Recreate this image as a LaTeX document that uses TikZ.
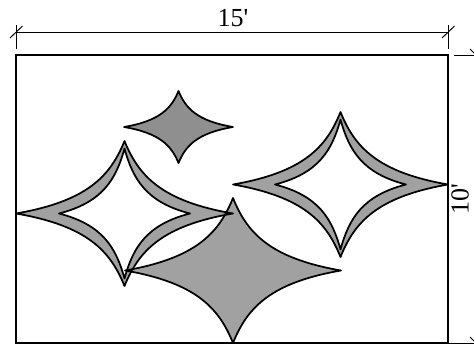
\documentclass[tikz,border=0pt]{standalone}
\usepackage{fontspec}
\setmainfont{Liberation Serif}[Ligatures=TeXOff]
\definecolor{solidgray}{gray}{0.56}
\definecolor{ditheredgray}{gray}{0.63}
\newcommand{\starpath}[4]{(#1,#2-#4) .. controls (#1+0.13*#3,#2-0.52*#4) and (#1+0.34*#3,#2-0.17*#4) .. (#1+#3,#2)
    .. controls (#1+0.34*#3,#2+0.17*#4) and (#1+0.13*#3,#2+0.52*#4) .. (#1,#2+#4)
    .. controls (#1-0.13*#3,#2+0.52*#4) and (#1-0.34*#3,#2+0.17*#4) .. (#1-#3,#2)
    .. controls (#1-0.34*#3,#2-0.17*#4) and (#1-0.13*#3,#2-0.52*#4) .. (#1,#2-#4) -- cycle}
\tikzset{
    outline/.style={line width=1.3pt, line join=round},
    dimline/.style={line width=0.7pt},
    dimlabel/.style={font=\fontsize{19.5}{21}\selectfont, inner sep=0pt}
}
\begin{document}
\begin{tikzpicture}[x=0.75pt,y=-0.75pt]
    \useasboundingbox (0,0) rectangle (474,347);
    % fills first, the outlines cross each other
    \fill[ditheredgray] \starpath{233}{270.5}{108}{72.5};
    \fill[ditheredgray, even odd rule] \starpath{124.5}{213.5}{108.5}{72.5} \starpath{124.5}{213.5}{65.5}{65};
    \fill[ditheredgray, even odd rule] \starpath{340.5}{184.5}{107.5}{72.5} \starpath{340.5}{184.5}{65.5}{65};
    \fill[solidgray] \starpath{178.5}{127}{54.5}{36};

    \draw[outline] \starpath{233}{270.5}{108}{72.5};
    \draw[outline] \starpath{124.5}{213.5}{108.5}{72.5};
    \draw[outline] \starpath{124.5}{213.5}{65.5}{65};
    \draw[outline] \starpath{340.5}{184.5}{107.5}{72.5};
    \draw[outline] \starpath{340.5}{184.5}{65.5}{65};
    \draw[outline] \starpath{178.5}{127}{54.5}{36};

    \draw[line width=1.3pt] (16,55) rectangle (448,343);

    % dimensions
    \coordinate (topa) at (16,32);
    \coordinate (topb) at (448,32);
    \coordinate (sidea) at (454,55);
    \coordinate (sideb) at (474,55);
    \coordinate (sidec) at (449,343);
    \coordinate (sided) at (474,343);
    \draw[dimline] (topa) -- (topb);
    \draw[dimline] (16,25) -- (16,49);
    \draw[dimline] (448,25) -- (448,49);
    \draw[dimline] (10,38) -- (22.5,26);
    \draw[dimline] (442,38) -- (454.5,26);
    \draw[dimline] (sidea) -- (sideb);
    \draw[dimline] (sidec) -- (sided);
    \draw[dimline] (470,49) -- (474,53);
    \draw[dimline] (470,337) -- (474,341);
    \node[dimlabel] (width) at (233,18) {15'};
    \node[dimlabel, rotate=90] (height) at (460,199) {10'};
\end{tikzpicture}
\end{document}
